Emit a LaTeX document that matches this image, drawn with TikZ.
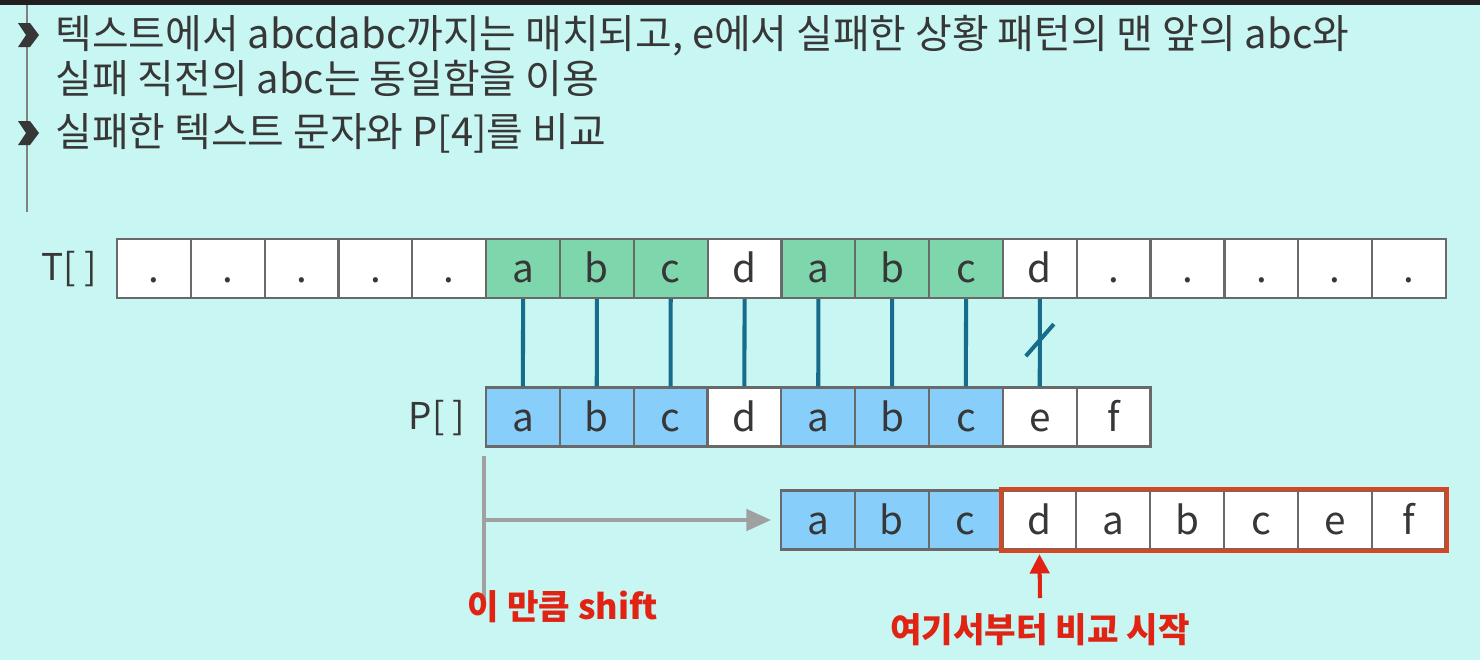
\documentclass[tikz,border=0pt]{standalone}
\usepackage{fontspec}
\setmainfont{Noto Sans CJK KR}
\usetikzlibrary{arrows.meta}

\definecolor{bgcyan}{RGB}{200,246,242}
\definecolor{topbar}{RGB}{32,32,32}
\definecolor{txtgray}{RGB}{55,55,55}
\definecolor{cellgray}{RGB}{105,105,105}
\definecolor{cellgreen}{RGB}{125,214,172}
\definecolor{cellblue}{RGB}{135,206,250}
\definecolor{linkteal}{RGB}{22,108,138}
\definecolor{shiftgray}{RGB}{160,160,160}
\definecolor{markred}{RGB}{225,35,20}
\definecolor{boxred}{RGB}{215,70,30}

\tikzset{
  cell/.style={draw=cellgray, line width=1.3pt, fill=white, minimum width=1.4766cm,
    minimum height=1.18cm, inner sep=0pt, text=txtgray, text height=16pt, text depth=0pt,
    font=\fontsize{22}{26}\selectfont},
  bullettext/.style={anchor=base west, text=txtgray, inner sep=0pt, font=\fontsize{22.7}{27}\selectfont},
  rowlabel/.style={text=txtgray, inner sep=0pt, font=\fontsize{21}{25}\selectfont},
  match/.style={draw=linkteal, line width=2.3pt},
  shiftline/.style={draw=shiftgray, line width=2.3pt},
  redbox/.style={draw=boxred, line width=2.2pt},
  redlabel/.style={text=markred, inner sep=0pt, font=\fontsize{19.5}{23}\selectfont\bfseries},
  chevron/.style={fill=txtgray}
}

\begin{document}
\begin{tikzpicture}[x=0.02cm, y=-0.02cm]
    % Background
    \useasboundingbox (0,0) rectangle (1480,660);
    \fill[bgcyan] (0,0) rectangle (1480,660);
    \fill[topbar] (0,0) rectangle (1480,5);
    \draw[shiftgray!80!black, line width=0.6pt] (27,5) -- (27,212);

    % Bullets
    \fill[chevron] (18,23) -- (30,23) -- (39,35) -- (30,47) -- (18,47) -- (26,35) -- cycle;
    \fill[chevron] (18,121) -- (30,121) -- (39,133) -- (30,145) -- (18,145) -- (26,133) -- cycle;
    \node[bullettext] (line1) at (55,48) {텍스트에서 abcdabc까지는 매치되고, e에서 실패한 상황 패턴의 맨 앞의 abc와};
    \node[bullettext] (line2) at (55,93) {실패 직전의 abc는 동일함을 이용};
    \node[bullettext] (line3) at (55,146) {실패한 텍스트 문자와 P[4]를 비교};

    % Text T[]
    \node[rowlabel] (tlabel) at (69,269) {T[ ]};
    \foreach \ch/\fc [count=\i] in {./white,./white,./white,./white,./white,
        a/cellgreen,b/cellgreen,c/cellgreen,d/white,a/cellgreen,b/cellgreen,c/cellgreen,d/white,
        ./white,./white,./white,./white,./white}
      \node[cell, fill=\fc] (t\i) at ({117+73.83*(\i-0.5)},268.5) {\ch};

    % Pattern P[]
    \node[rowlabel] (plabel) at (437,418) {P[ ]};
    \foreach \ch/\fc [count=\i] in {a/cellblue,b/cellblue,c/cellblue,d/white,
        a/cellblue,b/cellblue,c/cellblue,e/white,f/white}
      \node[cell, fill=\fc] (p\i) at ({486+73.83*(\i-0.5)},417) {\ch};

    % Matches
    \foreach \i [evaluate=\i as \j using int(\i+5)] in {1,...,8}
      \draw[match] (t\j.south) -- (p\i.north);
    \path (t13.south) -- (p8.north) coordinate[pos=0.47] (cut);
    \draw[match] ([shift={(-14,16)}]cut) -- ([shift={(14,-16)}]cut);

    % Shifted pattern
    \foreach \ch/\fc [count=\i] in {a/cellblue,b/cellblue,c/cellblue,d/white,
        a/white,b/white,c/white,e/white,f/white}
      \node[cell, fill=\fc] (s\i) at ({781+73.83*(\i-0.5)},520) {\ch};
    \draw[redbox] (s4.north west) rectangle (s9.south east);

    % Shift amount
    \coordinate (sh0) at (484,456);
    \coordinate (sh1) at (484,600);
    \draw[shiftline] (sh0) -- (sh1);
    \draw[shiftline, -{Triangle[length=14pt,width=12pt]}, shorten >=5pt] (sh0 |- s1.west) -- (s1.west);
    \node[redlabel] (shiftlabel) at (563,607) {이 만큼 shift};

    % Start of comparison
    \node[redlabel] (startlabel) at (1040,630) {여기서부터 비교 시작};
    \coordinate (arrowtail) at (1040,598);
    \draw[markred, line width=2.3pt, -{Triangle[length=11pt,width=11pt]}, shorten >=2pt]
      (arrowtail) -- (s4.south);
\end{tikzpicture}
\end{document}
